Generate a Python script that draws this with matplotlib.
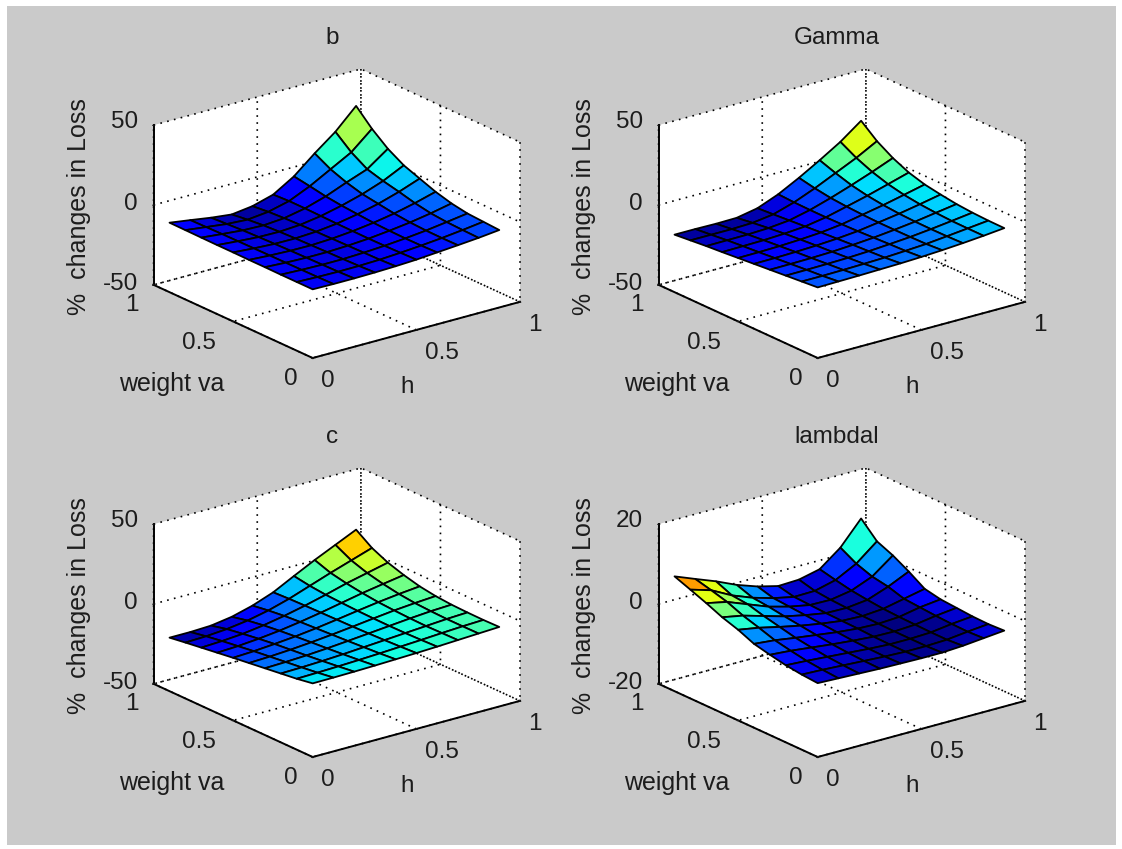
import numpy as np
import matplotlib
matplotlib.use("Agg")
import matplotlib.pyplot as plt
from matplotlib.patches import Rectangle
from matplotlib.colors import Normalize
from matplotlib.transforms import Affine2D
from mpl_toolkits.mplot3d import proj3d

# h (x axis) and weight va (y axis) sample points
h_values = [0.0, 0.1, 0.2, 0.3, 0.4, 0.5, 0.6, 0.7, 0.8, 0.9]
weight_values = [0.0, 0.1, 0.2, 0.3, 0.4, 0.5, 0.6, 0.7, 0.8, 0.9]

# rows run from weight 0.9 down to weight 0.0; columns from h 0.0 to h 0.9
loss_b = [
    [-6.5, -8.4, -10.4, -11.9, -10.2, -6.5, 1.4, 12.3, 22.3, 35.0],
    [-6.6, -8.2, -9.8, -10.6, -9.2, -6.0, -0.2, 6.9, 14.0, 25.2],
    [-6.7, -8.0, -9.2, -9.6, -8.6, -6.0, -2.0, 3.2, 8.0, 17.3],
    [-6.8, -7.9, -8.8, -9.0, -8.2, -6.2, -3.2, 0.5, 5.2, 11.5],
    [-6.8, -7.8, -8.5, -8.6, -7.9, -6.4, -4.0, -1.0, 3.0, 7.8],
    [-6.9, -7.7, -8.2, -8.3, -7.7, -6.5, -4.8, -2.5, 0.5, 4.1],
    [-6.9, -7.6, -8.0, -8.0, -7.5, -6.6, -5.2, -3.5, -1.3, 1.4],
    [-7.0, -7.5, -7.8, -7.8, -7.3, -6.5, -5.4, -4.0, -2.2, -0.3],
    [-7.0, -7.4, -7.6, -7.5, -7.1, -6.3, -5.3, -4.1, -2.6, -0.9],
    [-7.0, -7.2, -7.2, -7.0, -6.6, -6.0, -5.0, -4.0, -2.9, -1.5],
]
loss_gamma = [
    [-14.0, -14.0, -14.2, -14.0, -11.5, -6.3, 0.5, 8.0, 16.0, 25.7],
    [-13.0, -13.0, -13.0, -12.6, -10.8, -6.8, -1.5, 4.5, 10.5, 17.5],
    [-12.0, -11.9, -11.8, -11.3, -10.0, -7.0, -3.0, 1.5, 6.3, 11.5],
    [-11.2, -11.0, -10.8, -10.2, -9.2, -7.0, -3.8, -0.5, 3.2, 7.0],
    [-10.3, -10.2, -9.9, -9.3, -8.4, -6.8, -4.3, -1.8, 1.1, 4.1],
    [-9.4, -9.3, -9.0, -8.5, -7.7, -6.5, -4.6, -2.6, -0.2, 2.4],
    [-8.5, -8.4, -8.2, -7.8, -7.0, -6.0, -4.6, -3.0, -1.0, 1.0],
    [-7.6, -7.5, -7.3, -7.0, -6.4, -5.5, -4.5, -3.1, -1.5, 0.2],
    [-6.7, -6.7, -6.5, -6.2, -5.8, -5.1, -4.3, -3.0, -1.6, -0.2],
    [-5.8, -5.6, -5.4, -5.1, -4.8, -4.3, -3.6, -2.7, -1.6, -0.3],
]
loss_c = [
    [-16.5, -16.5, -16.0, -14.0, -10.5, -5.7, 1.0, 7.5, 13.5, 19.5],
    [-15.0, -14.6, -13.6, -11.8, -9.0, -5.2, -0.6, 4.0, 8.3, 12.6],
    [-13.6, -13.0, -12.0, -10.2, -7.8, -4.9, -1.6, 2.0, 5.0, 8.0],
    [-12.2, -11.6, -10.5, -9.0, -7.0, -4.7, -2.1, 0.5, 2.7, 4.8],
    [-10.8, -10.2, -9.2, -8.0, -6.4, -4.5, -2.5, -0.6, 1.0, 2.3],
    [-9.5, -9.0, -8.2, -7.1, -5.8, -4.3, -2.7, -1.2, -0.1, 0.8],
    [-8.2, -7.8, -7.2, -6.3, -5.2, -4.0, -2.8, -1.6, -0.6, 0.0],
    [-6.9, -6.6, -6.1, -5.4, -4.5, -3.6, -2.7, -1.8, -0.9, -0.3],
    [-5.6, -5.3, -4.9, -4.4, -3.8, -3.1, -2.4, -1.6, -0.9, -0.4],
    [-3.9, -3.8, -3.6, -3.3, -2.9, -2.5, -2.0, -1.4, -0.8, -0.2],
]
loss_lambdal = [
    [8.75, 6.7, 4.7, 2.4, 0.6, -0.7, -0.5, 0.7, 4.7, 10.6],
    [7.25, 5.7, 3.0, 1.0, -0.5, -1.6, -1.5, -0.2, 2.5, 6.7],
    [5.7, 4.6, 2.6, 0.6, -0.8, -1.8, -1.9, -1.0, 1.1, 5.0],
    [4.0, 3.0, 1.5, 0.0, -1.1, -2.0, -2.1, -1.5, 0.4, 2.8],
    [2.7, 1.8, 0.6, -0.5, -1.4, -2.1, -2.3, -1.9, -0.8, 0.3],
    [1.0, 0.5, -0.3, -1.0, -1.7, -2.2, -2.4, -2.1, -1.1, -0.5],
    [0.1, -0.3, -0.9, -1.5, -2.0, -2.4, -2.5, -2.2, -1.4, -0.8],
    [-0.7, -1.0, -1.4, -1.8, -2.2, -2.5, -2.5, -2.3, -1.6, -1.1],
    [-1.2, -1.4, -1.7, -2.0, -2.3, -2.5, -2.5, -2.3, -1.7, -1.2],
    [-1.5, -1.7, -1.9, -2.1, -2.2, -2.3, -2.3, -2.0, -1.5, -1.0],
]

panel_titles = ["b", "Gamma", "c", "lambdal"]
panel_loss = [loss_b, loss_gamma, loss_c, loss_lambdal]
panel_zticks = [[-50, 0, 50], [-50, 0, 50], [-50, 0, 50], [-20, 0, 20]]
axis_ticks = [0, 0.5, 1]
axis_tick_labels = ["0", "0.5", "1"]
x_label = "h"
y_label = "weight va"
z_label = "%  changes in Loss"

W, H = 1122, 849
FONT = 17.5
INK = "#1c1c1c"
plt.rcParams.update({
    "font.family": "Liberation Sans",
    "font.size": FONT,
    "axes.unicode_minus": False,
    "axes.labelcolor": INK,
    "grid.color": "black",
    "grid.linewidth": 1.2,
    "grid.linestyle": (0, (1, 3.2)),
    "text.color": INK,
    "xtick.color": INK,
    "ytick.color": INK,
})

fig = plt.figure(figsize=(W / 100, H / 100), dpi=100, facecolor="white")
fig.add_artist(Rectangle((7 / W, 1 - 845 / H), (1116 - 7) / W, (845 - 6) / H,
                         transform=fig.transFigure, facecolor="#cacaca",
                         edgecolor="none", zorder=-10))

offsets = [(0, 0), (505, 0), (0, 399), (505, 399)]
BOX_LEFT, BOX_RIGHT, BOX_BOTTOM, BOX_TOP = 153.6, 520.0, 358.0, 69.0

# wanted pixel centres of the texts, in the first panel
X_TICK_PX = [(328, 381), (442, 353), (535, 325)]
Y_TICK_PX = [(291, 379), (199, 343), (132, 305)]
Z_TICK_PX = [(120.5, 284), (131, 204), (124.5, 122)]
X_LABEL_PX = (407, 387)
Y_LABEL_PX = (172, 384)
Z_LABEL_PX = (79, 207)


def pin_tick_labels(ax, axis, shifts):
    """Keep a 3-D axis's tick labels shifted by fixed pixel amounts."""
    original = axis.get_major_ticks

    def shifted(numticks=None):
        ticks = original(numticks)
        for tick, (sx, sy) in zip(ticks, shifts):
            tick.label1.set_transform(ax.transData + Affine2D().translate(sx, sy))
        return ticks

    axis.get_major_ticks = shifted


def pin_axis_label(ax, axis, shift):
    """Axis3D.draw resets the label's transform, so shift it just before it draws."""
    label = axis.label
    original = label.draw

    def draw(renderer):
        label._transform = ax.transData + Affine2D().translate(*shift)
        original(renderer)

    label.draw = draw


panels = []
for title, loss, zticks, (dx, dy) in zip(panel_titles, panel_loss, panel_zticks, offsets):
    ax = fig.add_axes([0.1, 0.1, 0.4, 0.4], projection="3d", proj_type="ortho",
                      facecolor="none")
    # the frame fills a non-square rectangle, as a stretch-to-fill 3-D axes does
    ax.apply_aspect = (lambda a: (lambda position=None:
                       a._set_position(a.get_position(original=True), "active")))(ax)
    ax.view_init(elev=30, azim=-127.5)
    ax.set_box_aspect((1, 1, 1.0))
    ax.set_xlim(0, 1)
    ax.set_ylim(0, 1)
    ax.set_zlim(zticks[0], zticks[-1])

    X, Y = np.meshgrid(h_values, weight_values)
    Z = np.array(loss)[::-1]
    norm = Normalize(Z.min(), Z.max())
    ax.plot_surface(X, Y, Z, facecolors=plt.cm.jet(norm(Z)), rstride=1, cstride=1,
                    shade=False, edgecolor="black", linewidth=1.3, antialiased=True)

    ax.set_xticks(axis_ticks, axis_tick_labels)
    ax.set_yticks(axis_ticks, axis_tick_labels)
    ax.set_zticks(zticks, [str(t) for t in zticks])
    ax.grid(True)
    for axis in (ax.xaxis, ax.yaxis, ax.zaxis):
        axis.set_pane_color((1, 1, 1, 1))
        axis.pane.set_edgecolor("none")
        axis.line.set_color("black")
        axis.line.set_linewidth(1.4)
        axis._axinfo["tick"]["inward_factor"] = 0.05
        axis._axinfo["tick"]["outward_factor"] = 0.03
        axis.set_rotate_label(False)
    ax.zaxis.set_ticks_position("upper")
    ax.zaxis.set_label_position("upper")
    ax.set_xlabel(x_label, fontsize=FONT)
    ax.set_ylabel(y_label, fontsize=18)
    ax.set_zlabel(z_label, fontsize=18, rotation=90)

    # fit the frame's projected corners to the wanted pixel box
    ax.apply_aspect()
    M = ax.get_proj()
    corners = np.array([[0, 1, zticks[0]], [1, 0, zticks[0]], [0, 0, zticks[0]], [1, 1, zticks[-1]]], float)
    px, py, _ = proj3d.proj_transform(corners[:, 0], corners[:, 1], corners[:, 2], M)
    frac = ax.transAxes.inverted().transform(ax.transData.transform(np.column_stack([px, py])))
    left, right = BOX_LEFT + dx, BOX_RIGHT + dx
    bottom, top = H - (BOX_BOTTOM + dy), H - (BOX_TOP + dy)
    w = (right - left) / (frac[1, 0] - frac[0, 0])
    x0 = left - frac[0, 0] * w
    h = (top - bottom) / (frac[3, 1] - frac[2, 1])
    y0 = bottom - frac[2, 1] * h
    ax.set_position([x0 / W, y0 / H, w / W, h / H])

    tx = (332 + dx - x0) / w
    ty = (H - (38 + dy + 11) - y0) / h / 0.92  # set_title scales y by 0.92 on 3-D axes
    ax.set_title(title, x=tx, y=ty, fontsize=FONT, pad=0, va="bottom")
    panels.append((ax, dx, dy))

# first pass: measure where everything lands, then shift it onto its wanted spot
fig.canvas.draw()


def shift_to(artist, target, dx, dy):
    box = artist.get_window_extent()
    return (target[0] + dx - (box.x0 + box.x1) / 2,
            (H - (target[1] + dy)) - (box.y0 + box.y1) / 2)


for ax, dx, dy in panels:
    for axis, targets in ((ax.xaxis, X_TICK_PX), (ax.yaxis, Y_TICK_PX), (ax.zaxis, Z_TICK_PX)):
        ticks = axis.get_major_ticks()
        shifts = [shift_to(t.label1, p, dx, dy) for t, p in zip(ticks, targets)]
        pin_tick_labels(ax, axis, shifts)
    for axis, target in ((ax.xaxis, X_LABEL_PX), (ax.yaxis, Y_LABEL_PX), (ax.zaxis, Z_LABEL_PX)):
        pin_axis_label(ax, axis, shift_to(axis.label, target, dx, dy))

fig.savefig("out.png", dpi=100, facecolor="white")
